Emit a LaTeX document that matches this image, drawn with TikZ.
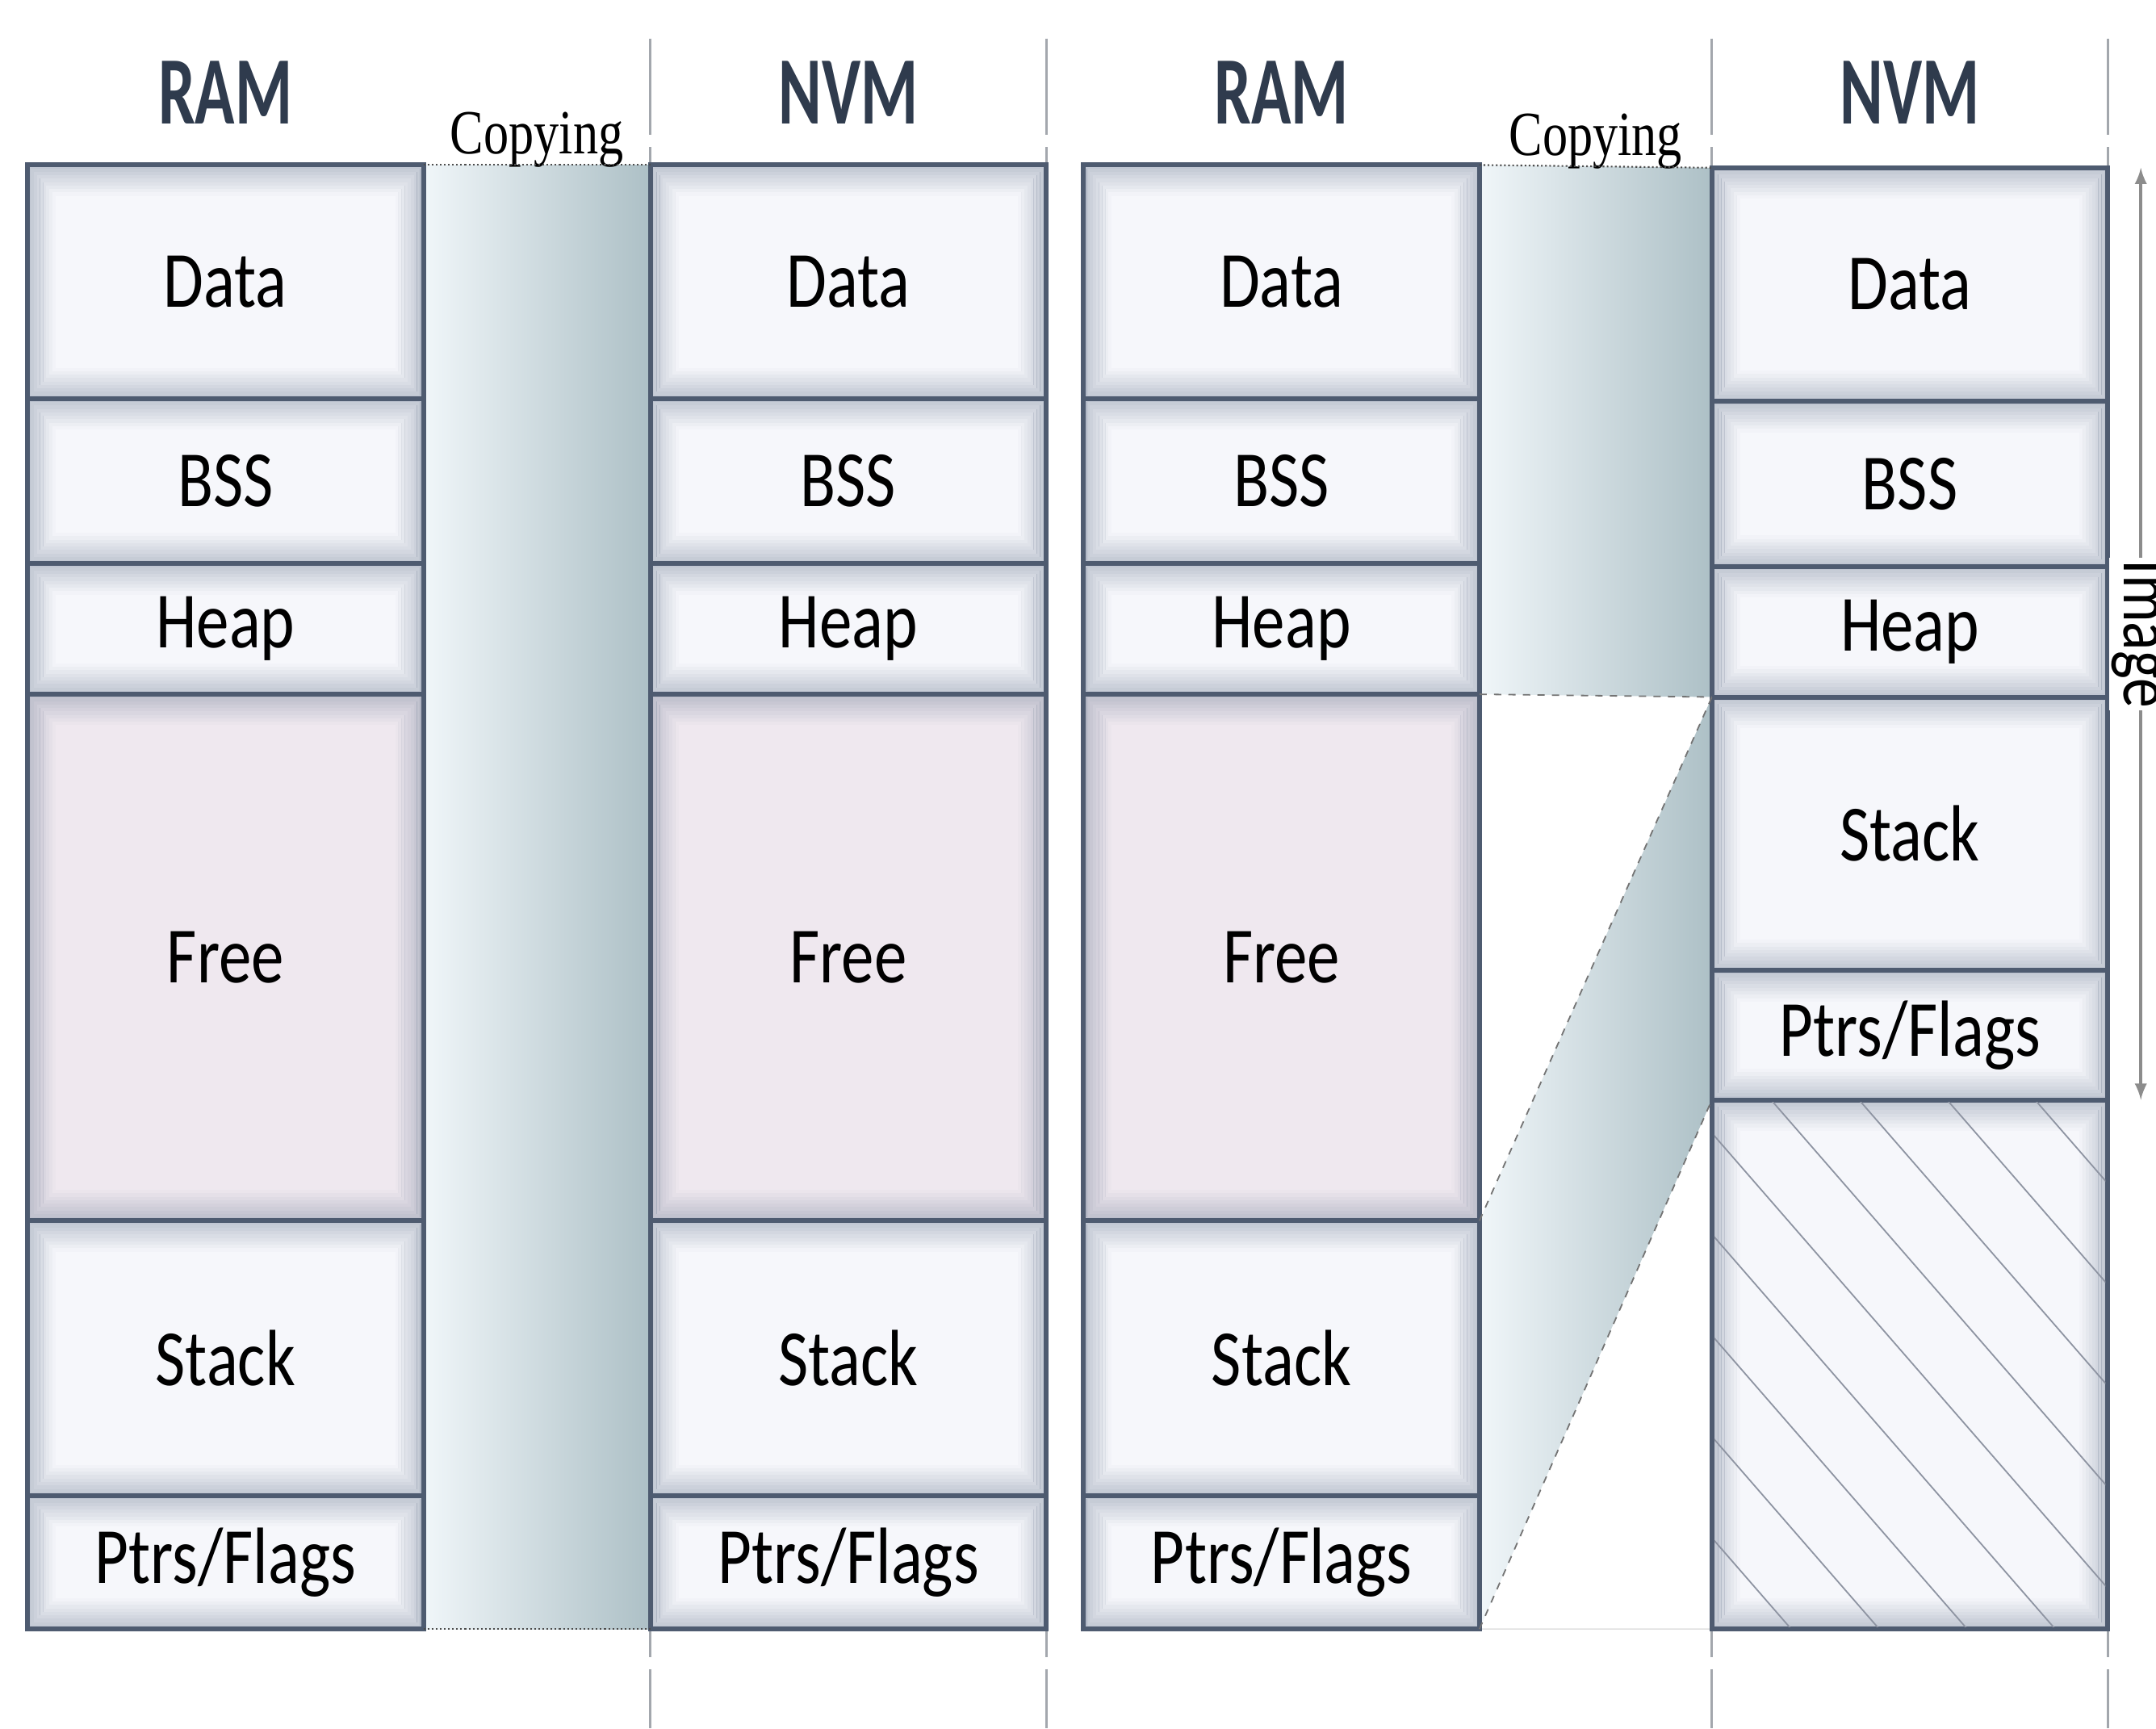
\documentclass[tikz,border=0pt]{standalone}
\usepackage{fontspec}
\newfontfamily\boxfont[FakeStretch=0.82]{Carlito}
\newfontfamily\hdrfont[FakeStretch=0.68]{Carlito Bold}
\newfontfamily\copyfont[FakeStretch=0.8]{Liberation Serif}
\usetikzlibrary{positioning,calc,backgrounds,arrows}
\tikzset{>=latex}
\definecolor{edgecol}{HTML}{4E5B70}
\definecolor{glowcol}{HTML}{7F8BA0}
\definecolor{cellfill}{HTML}{F6F7FB}
\definecolor{freefill}{HTML}{EFE8EF}
\definecolor{hdrcol}{HTML}{2F3B4D}
\definecolor{bandlight}{HTML}{F0F6F9}
\definecolor{bandmid}{HTML}{D8E3E6}
\definecolor{banddark}{HTML}{ADC0C6}
\definecolor{sepcol}{HTML}{A3A7AD}
\definecolor{hatchcol}{HTML}{8E94A2}
\tikzset{
  membox/.style={draw=edgecol, line width=0.07cm, fill=cellfill, inner sep=0pt, outer sep=0pt,
    minimum width=5.76cm, font=\boxfont\fontsize{33}{36}\selectfont,
    path picture={
      \foreach \i [evaluate=\i as \op using 0.5-0.052*\i] in {1,...,9}
        \draw[glowcol, line width=0.05cm, opacity=\op]
          ([shift={(\i*0.045cm-0.02cm,-\i*0.05cm+0.025cm)}]path picture bounding box.north west)
          rectangle
          ([shift={(-\i*0.045cm+0.02cm,\i*0.05cm-0.025cm)}]path picture bounding box.south east);
    }},
  freebox/.style={membox, fill=freefill},
  hdr/.style={anchor=base, text=hdrcol, font=\hdrfont\fontsize{40}{44}\selectfont},
  copylbl/.style={anchor=base, inner sep=0pt, font=\copyfont\fontsize{26}{30}\selectfont},
  copyline/.style={densely dotted, line width=0.7pt, black!70},
  imgline/.style={dashed, line width=0.6pt, black!55},
  sepline/.style={sepcol, line width=1.1pt, dash pattern=on 40pt off 5pt},
  hatchline/.style={hatchcol, line width=0.6pt},
  imgarrow/.style={<->, black!45, line width=1.3pt},
  imglabel/.style={rotate=-90, fill=white, inner sep=1pt, text=black, font=\boxfont\fontsize{30}{32}\selectfont}
}
\begin{document}
\begin{tikzpicture}[x=0.02cm, y=-0.02cm]
  \useasboundingbox (0,0) rectangle (1568,1257);
  % Memory columns
  \foreach \c/\x in {r1/20, n1/473, r2/788}{
    \node[membox, anchor=north west, minimum height=3.4cm] (\c-data) at (\x,120) {Data};
    \node[membox, below=0pt of \c-data, minimum height=2.4cm] (\c-bss) {BSS};
    \node[membox, below=0pt of \c-bss, minimum height=1.9cm] (\c-heap) {Heap};
    \node[freebox, below=0pt of \c-heap, minimum height=7.66cm] (\c-free) {Free};
    \node[membox, below=0pt of \c-free, minimum height=4cm] (\c-stack) {Stack};
    \node[membox, below=0pt of \c-stack, minimum height=1.94cm] (\c-ptrs) {Ptrs/Flags};
  }
  \node[membox, anchor=north west, minimum height=3.4cm] (n2-data) at (1245,122) {Data};
  \node[membox, below=0pt of n2-data, minimum height=2.4cm] (n2-bss) {BSS};
  \node[membox, below=0pt of n2-bss, minimum height=1.9cm] (n2-heap) {Heap};
  \node[membox, below=0pt of n2-heap, minimum height=3.98cm] (n2-stack) {Stack};
  \node[membox, below=0pt of n2-stack, minimum height=1.88cm] (n2-ptrs) {Ptrs/Flags};
  \node[membox, below=0pt of n2-ptrs, minimum height=7.7cm] (n2-void) {};

  % Hatching of the unused part
  \begin{scope}
    \clip ([shift={(0.035cm,-0.035cm)}]n2-void.north west) rectangle ([shift={(-0.035cm,0.035cm)}]n2-void.south east);
    \foreach \k in {-7,...,3}
      \draw[hatchline] ($(n2-void.north west)+({43+64*\k},0)$) -- ++(420,483);
  \end{scope}

  % Titles
  \node[hdr] (r1-title) at ($(r1-data.north)+(0,-30)$) {RAM};
  \node[hdr] (n1-title) at ($(n1-data.north)+(0,-30)$) {NVM};
  \node[hdr] (r2-title) at ($(r2-data.north)+(0,-30)$) {RAM};
  \node[hdr] (n2-title) at ($(n2-data.north)+(0,-32)$) {NVM};
  \node[copylbl] (cp1) at ($(r1-data.north east)!0.5!(n1-data.north west)+(0,-8)$) {Copying};
  \node[copylbl] (cp2) at ($(r2-data.north east)!0.5!(n2-data.north west)+(0,-8)$) {Copying};

  % Copy bands and separators
  \begin{scope}[on background layer]
    \coordinate (septop) at (0,28);
    \coordinate (sepbot) at (0,1257);
    \foreach \s in {n1-data.west, n1-data.east, n2-data.west, n2-data.east}
      \draw[sepline] (\s |- septop) -- (\s |- sepbot);
    \shade[left color=bandlight, middle color=bandmid, right color=banddark]
      (r1-data.north east) rectangle (n1-ptrs.south west);
    \shade[left color=bandlight, middle color=bandmid, right color=banddark]
      (r2-data.north east) -- (n2-data.north west) -- (n2-heap.south west) -- (r2-heap.south east) -- cycle;
    \shade[left color=bandlight, middle color=bandmid, right color=banddark]
      (r2-free.south east) -- (n2-stack.north west) -- (n2-ptrs.south west) -- (r2-ptrs.south east) -- cycle;
    \draw[black!12, line width=0.5pt] (r2-ptrs.south east) -- (n2-void.south west);
  \end{scope}
  \draw[copyline] (r1-data.north east) -- (n1-data.north west);
  \draw[copyline] (r1-ptrs.south east) -- (n1-ptrs.south west);
  \draw[copyline] (r2-data.north east) -- (n2-data.north west);
  \draw[imgline] (r2-heap.south east) -- (n2-heap.south west);
  \draw[imgline] (r2-free.south east) -- (n2-stack.north west);
  \draw[imgline] (r2-ptrs.south east) -- (n2-ptrs.south west);

  % Image extent
  \coordinate (imgtop) at ($(n2-data.north east)+(24,0)$);
  \coordinate (imgbot) at ($(n2-ptrs.south east)+(24,0)$);
  \draw[imgarrow] (imgtop) -- node[imglabel] (imgtxt) {Image} (imgbot);
\end{tikzpicture}
\end{document}
